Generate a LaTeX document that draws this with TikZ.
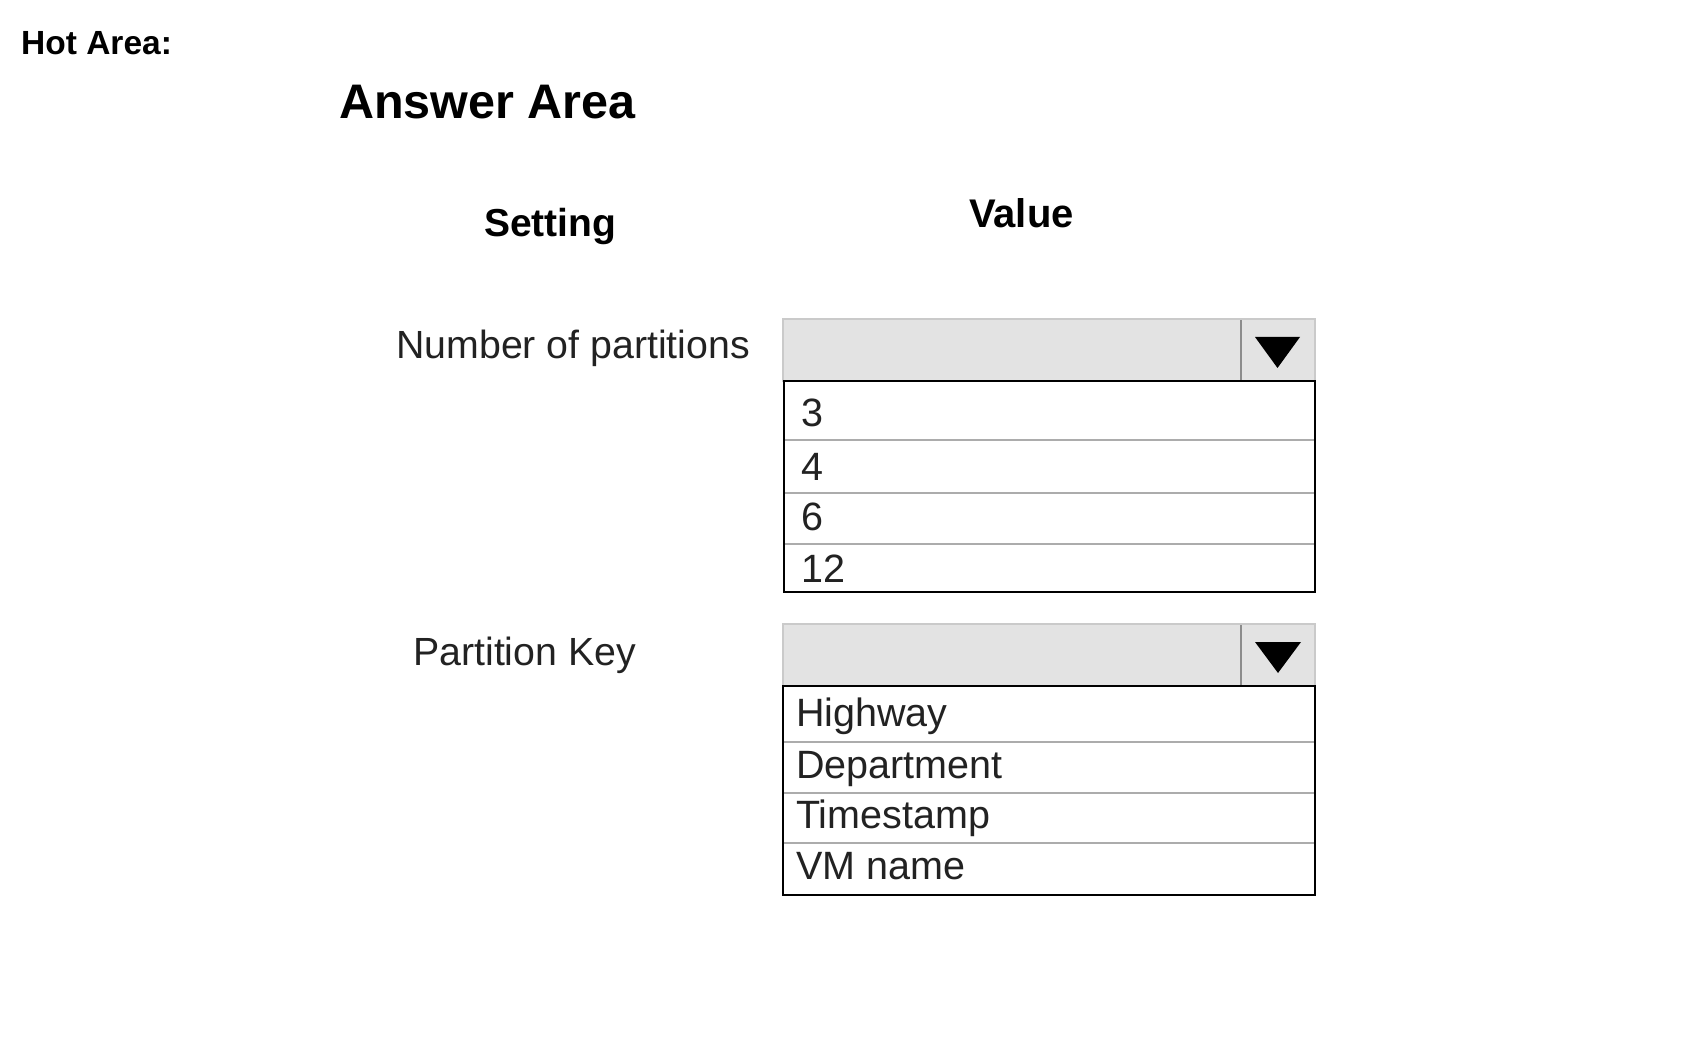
\documentclass[tikz,border=0pt]{standalone}
\usepackage{fontspec}
\setmainfont{Liberation Sans}
\definecolor{hdrfill}{HTML}{E3E3E3}
\definecolor{hdrline}{HTML}{CACACA}
\definecolor{divline}{HTML}{8C8C8C}
\definecolor{sepline}{HTML}{ACACAC}
\definecolor{txt}{HTML}{222222}
\tikzset{
  lbl/.style={anchor=base west, inner sep=0pt, text=txt, font=\fontsize{39.3}{46}\selectfont},
  item/.style={anchor=base west, inner sep=0pt, text=txt, font=\fontsize{39.5}{46}\selectfont},
  head/.style={anchor=base west, inner sep=0pt, text=black},
  hdrbox/.style={fill=hdrfill, draw=hdrline, line width=2pt},
  divider/.style={draw=divline, line width=1.5pt},
  listbox/.style={draw=black, line width=2pt},
  sep/.style={draw=sepline, line width=1.5pt},
}
\begin{document}
\begin{tikzpicture}[x=1pt,y=-1pt]
\useasboundingbox[fill=white] (0,0) rectangle (1682,1040);

% headings
\node[head, font=\bfseries\fontsize{33.5}{40}\selectfont] (hot) at (21,55) {Hot Area:};
\node[head, font=\bfseries\fontsize{48.5}{56}\selectfont] (ans) at (339,119) {Answer Area};
\node[head, font=\bfseries\fontsize{39}{46}\selectfont] (set) at (484,237) {Setting};
\node[head, font=\bfseries\fontsize{40}{46}\selectfont] (val) at (969,228) {Value};

% labels
\node[lbl] (npart) at (396,359) {Number of partitions};
\node[lbl] (pkey) at (413,665) {Partition Key};

% dropdown 1
\draw[hdrbox] (783,319) rectangle (1315,381);
\draw[divider] (1241,320) -- (1241,381);
\fill[black] (1255,337) -- (1300,337) -- (1277.5,368) -- cycle;
\draw[sep] (784,440) -- (1315,440);
\draw[sep] (784,493) -- (1315,493);
\draw[sep] (784,544) -- (1315,544);
\draw[listbox] (784,381) rectangle (1315,592);
\node[item] (o3) at (801,427) {3};
\node[item] (o4) at (801,480) {4};
\node[item] (o6) at (801,530) {6};
\node[item] (o12) at (801,582) {12};

% dropdown 2
\draw[hdrbox] (783,624) rectangle (1315,686);
\draw[divider] (1241,625) -- (1241,686);
\fill[black] (1255,642) -- (1301,642) -- (1278,673) -- cycle;
\draw[sep] (783,742) -- (1315,742);
\draw[sep] (783,793) -- (1315,793);
\draw[sep] (783,843) -- (1315,843);
\draw[listbox] (783,686) rectangle (1315,895);
\node[item] (hw) at (796,726) {Highway};
\node[item] (dep) at (796,778) {Department};
\node[item] (ts) at (796,828) {Timestamp};
\node[item] (vm) at (796,879) {VM name};
\end{tikzpicture}
\end{document}
